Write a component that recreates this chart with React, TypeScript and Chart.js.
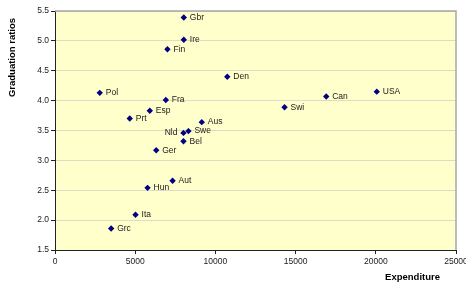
import { useEffect, useRef } from 'react';
import { Chart, registerables } from 'chart.js';

Chart.register(...registerables);

const countries = ['Gbr', 'Ire', 'Fin', 'Den', 'Pol', 'Fra', 'Esp', 'Prt', 'Aus', 'Nld', 'Swe', 'Bel', 'Ger', 'Aut', 'Hun', 'Ita', 'Grc', 'Can', 'USA', 'Swi'];
const expenditure = [8030, 8030, 7010, 10740, 2790, 6910, 5910, 4660, 9150, 8010, 8320, 8010, 6310, 7330, 5770, 5020, 3500, 16910, 20060, 14310];
const graduation = [5.39, 5.02, 4.86, 4.4, 4.13, 4.01, 3.83, 3.7, 3.64, 3.46, 3.49, 3.32, 3.17, 2.66, 2.54, 2.09, 1.86, 4.07, 4.15, 3.89];
const leftLabels = ['Nld'];

const xTicks = [0, 5000, 10000, 15000, 20000, 25000];
const yTicks = [1.5, 2.0, 2.5, 3.0, 3.5, 4.0, 4.5, 5.0, 5.5];
const xTitle = 'Expenditure';
const yTitle = 'Graduation ratios';

const FONT = "'Liberation Sans', Arial, sans-serif";

const decorPlugin = {
  id: 'decor',
  beforeDraw(chart: any) {
    const { ctx, chartArea } = chart;
    ctx.save();
    ctx.fillStyle = '#FFFFCC';
    ctx.fillRect(chartArea.left, chartArea.top, chartArea.right - chartArea.left, chartArea.bottom - chartArea.top);
    ctx.restore();
  },
  afterDraw(chart: any) {
    const { ctx, chartArea } = chart;
    ctx.save();
    // top/right plot border
    ctx.strokeStyle = '#a6a6a6';
    ctx.lineWidth = 1.5;
    ctx.beginPath();
    ctx.moveTo(chartArea.left, chartArea.top);
    ctx.lineTo(chartArea.right, chartArea.top);
    ctx.lineTo(chartArea.right, chartArea.bottom);
    ctx.stroke();
    // point labels
    const meta = chart.getDatasetMeta(0);
    ctx.font = `8.5px ${FONT}`;
    ctx.fillStyle = '#1a1a1a';
    ctx.textBaseline = 'middle';
    meta.data.forEach((pt: any, i: number) => {
      const name = countries[i];
      if (leftLabels.includes(name)) {
        ctx.textAlign = 'right';
        ctx.fillText(name, pt.x - 6, pt.y);
      } else {
        ctx.textAlign = 'left';
        ctx.fillText(name, pt.x + 6, pt.y);
      }
    });
    // axis titles
    ctx.fillStyle = '#000';
    ctx.font = `bold 9.5px ${FONT}`;
    ctx.textAlign = 'right';
    ctx.textBaseline = 'middle';
    ctx.fillText(xTitle, 440, 277.5);
    ctx.translate(12.5, 57.5);
    ctx.rotate(-Math.PI / 2);
    ctx.textAlign = 'center';
    ctx.fillText(yTitle, 0, 0);
    ctx.restore();
  },
};

export default function App() {
  const ref = useRef<HTMLCanvasElement | null>(null);
  useEffect(() => {
    document.body.style.margin = '0';
    const canvas = ref.current;
    if (!canvas) return;
    const chart = new Chart(canvas, {
      type: 'scatter',
      data: {
        datasets: [
          {
            data: expenditure.map((x, i) => ({ x, y: graduation[i] })),
            pointStyle: 'rectRot',
            pointRadius: 3.2,
            pointBackgroundColor: '#000080',
            pointBorderColor: '#000080',
            pointBorderWidth: 0,
          },
        ],
      },
      options: {
        animation: false,
        responsive: false,
        devicePixelRatio: 1,
        layout: { padding: { top: 11, right: 10, left: 0, bottom: 0 } },
        plugins: { legend: { display: false }, tooltip: { enabled: false }, title: { display: false } },
        scales: {
          x: {
            type: 'linear',
            min: 0,
            max: 25000,
            afterBuildTicks: (s: any) => { s.ticks = xTicks.map((v) => ({ value: v })); },
            afterFit: (s: any) => { s.height = 37; s.paddingLeft = 0; s.paddingRight = 0; },
            ticks: {
              font: { family: FONT, size: 8.5 },
              color: '#1a1a1a',
              padding: 3,
              maxRotation: 0,
              autoSkip: false,
              callback: (v: any) => String(v),
            },
            grid: { drawOnChartArea: false, drawTicks: true, tickLength: 4, tickColor: '#222', color: '#222' },
            border: { color: '#222', width: 1 },
          },
          y: {
            type: 'linear',
            min: 1.5,
            max: 5.5,
            afterBuildTicks: (s: any) => { s.ticks = yTicks.map((v) => ({ value: v })); },
            afterFit: (s: any) => { s.width = 55; s.paddingTop = 0; s.paddingBottom = 0; },
            ticks: {
              font: { family: FONT, size: 8.5 },
              color: '#1a1a1a',
              padding: 2,
              autoSkip: false,
              callback: (v: any) => Number(v).toFixed(1),
            },
            grid: { color: '#dcdcc8', tickColor: '#222', tickLength: 4, lineWidth: 1 },
            border: { color: '#222', width: 1 },
          },
        },
      },
      plugins: [decorPlugin],
    });
    return () => chart.destroy();
  }, []);
  return (
    <div style={{ width: 466, height: 287 }}>
      <canvas ref={ref} width={466} height={287} style={{ display: 'block' }} />
    </div>
  );
}
